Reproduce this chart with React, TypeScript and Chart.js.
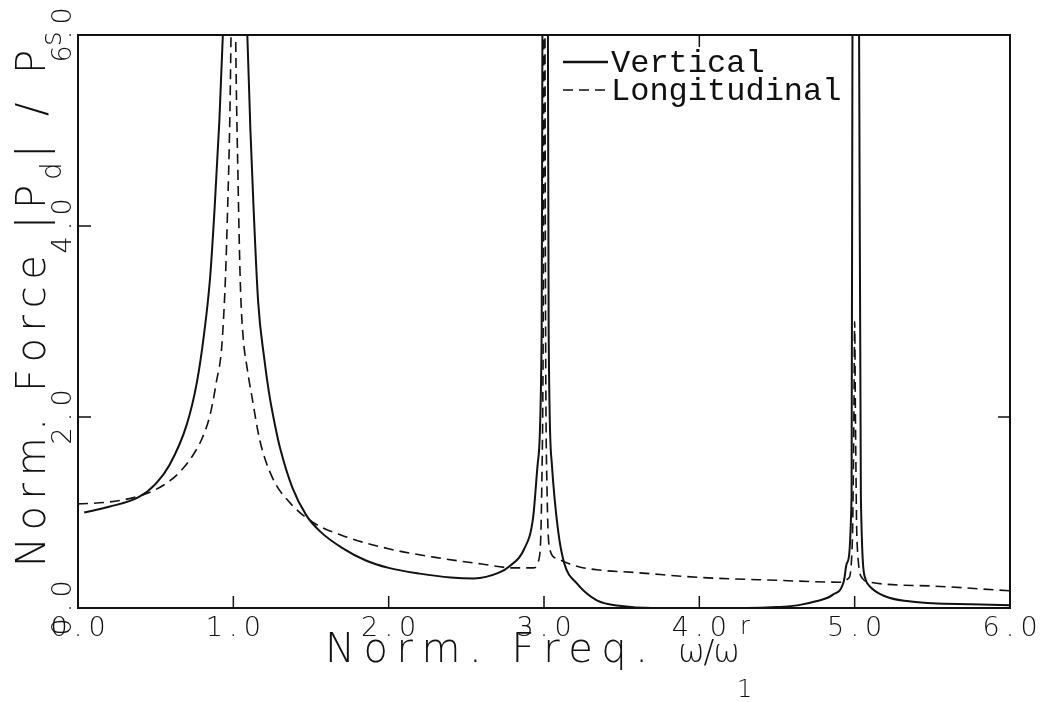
import React, { useEffect, useRef } from 'react';
import { Chart, registerables } from 'chart.js';

Chart.register(...registerables);

// ---------- data ----------
const FREQ_VERTICAL = [
  0.04, 0.2, 0.39, 0.5, 0.59, 0.7, 0.765, 0.81, 0.85, 0.88, 0.91, 0.935, 0.96, 1.0, 1.05, 1.09, 1.11, 1.13,
  1.16, 1.2, 1.23, 1.27, 1.3, 1.38, 1.47, 1.56, 1.7, 1.85, 2.0, 2.2, 2.4, 2.55, 2.71, 2.78, 2.87, 2.93, 2.96, 2.985,
  2.99, 3.005, 3.025, 3.03, 3.05, 3.09, 3.13, 3.21, 3.34, 3.5, 3.7, 4.0, 4.3, 4.5, 4.64, 4.75, 4.86, 4.93,
  4.95, 4.98, 4.986, 5.005, 5.028, 5.04, 5.07, 5.09, 5.2, 5.35, 5.5, 5.75, 6.0,
];
const VERTICAL = [
  1.0, 1.06, 1.16, 1.3, 1.5, 1.92, 2.36, 2.85, 3.45, 4.2, 5.1, 6.1, 7.5, 9.0, 7.4, 6.0, 5.0, 4.2,
  3.2, 2.6, 2.25, 1.9, 1.68, 1.26, 0.97, 0.8, 0.63, 0.5, 0.42, 0.36, 0.32, 0.31, 0.37, 0.44, 0.61, 0.95, 1.52, 2.9,
  6.2, 9.0, 6.2, 2.9, 1.52, 0.82, 0.47, 0.26, 0.08, 0.02, 0.0, 0.0, 0.0, 0.01, 0.03, 0.07, 0.14, 0.28,
  0.47, 1.16, 6.2, 9.0, 6.2, 1.16, 0.3, 0.24, 0.12, 0.07, 0.05, 0.04, 0.03,
];

const FREQ_LONGITUDINAL = [
  0.0, 0.2, 0.39, 0.5, 0.59, 0.67, 0.74, 0.8, 0.85, 0.89, 0.93, 0.96, 0.985, 1.0, 1.015, 1.03, 1.045, 1.06,
  1.09, 1.12, 1.17, 1.25, 1.36, 1.51, 1.7, 2.0, 2.3, 2.6, 2.8, 2.93, 2.97, 2.985, 2.995, 3.003, 3.01, 3.02,
  3.04, 3.08, 3.15, 3.23, 3.34, 3.6, 4.0, 4.5, 4.9, 4.96, 4.985, 4.995, 5.0, 5.005, 5.015, 5.05, 5.1, 5.5,
  6.0,
];
const LONGITUDINAL = [
  1.09, 1.11, 1.17, 1.24, 1.33, 1.45, 1.6, 1.78, 2.02, 2.36, 2.84, 4.0, 6.0, 9.0, 6.0, 4.5, 3.4, 2.9,
  2.5, 2.21, 1.76, 1.37, 1.11, 0.9, 0.76, 0.62, 0.53, 0.46, 0.42, 0.42, 0.53, 1.2, 3.0, 8.0, 3.0, 1.2,
  0.6, 0.52, 0.47, 0.43, 0.4, 0.37, 0.32, 0.29, 0.27, 0.31, 0.7, 2.0, 3.0, 2.0, 0.7, 0.31, 0.27, 0.23,
  0.18,
];

const X_TICKS = [0, 1, 2, 3, 4, 5, 6];
const X_TICK_LABELS = ['0.0', '1.0', '2.0', '3.0', '4.0', '5.0', '6.0'];
const Y_TICKS = [0, 2, 4, 6];
const Y_TICK_LABELS = ['0.0', '2.0', '4.0', '6.0'];
const SERIES_NAMES = ['Vertical', 'Longitudinal'];

const INK = '#111';

function spread(ctx: CanvasRenderingContext2D, text: string, start: number, end: number, base: number) {
  const chars = [...text];
  const widths = chars.map((c) => ctx.measureText(c).width);
  const total = widths.reduce((s, w) => s + w, 0);
  const gap = chars.length > 1 ? (end - start - total) / (chars.length - 1) : 0;
  let pos = start;
  ctx.textAlign = 'left';
  chars.forEach((c, i) => {
    ctx.fillText(c, pos, base);
    pos += widths[i] + gap;
  });
}

function stepped(ctx: CanvasRenderingContext2D, text: string, center: number, base: number, step: number) {
  const chars = [...text];
  ctx.textAlign = 'center';
  chars.forEach((c, i) => {
    ctx.fillText(c, center + (i - (chars.length - 1) / 2) * step, base);
  });
}

const decorPlugin = {
  id: 'decor',
  afterDraw(chart: any) {
    const { ctx, chartArea: a } = chart;
    const xs = chart.scales.x;
    const ys = chart.scales.y;
    ctx.save();
    ctx.strokeStyle = INK;
    ctx.fillStyle = INK;
    ctx.setLineDash([]);

    // frame
    ctx.lineWidth = 2;
    ctx.strokeRect(a.left, a.top, a.right - a.left, a.bottom - a.top);

    // inner tick marks
    ctx.lineWidth = 1.5;
    ctx.beginPath();
    Y_TICKS.slice(1, -1).forEach((v) => {
      const py = ys.getPixelForValue(v);
      ctx.moveTo(a.left, py);
      ctx.lineTo(a.left + 13, py);
    });
    X_TICKS.slice(1, -1).forEach((v) => {
      const px = xs.getPixelForValue(v);
      ctx.moveTo(px, a.bottom);
      ctx.lineTo(px, a.bottom - 12);
    });
    const topTick = xs.getPixelForValue(X_TICKS[4]);
    ctx.moveTo(topTick, a.top);
    ctx.lineTo(topTick, a.top + 12);
    const rightTick = ys.getPixelForValue(Y_TICKS[1]);
    ctx.moveTo(a.right, rightTick);
    ctx.lineTo(a.right - 12, rightTick);
    ctx.stroke();

    // x tick labels
    ctx.font = '200 27px "DejaVu Sans"';
    ctx.textBaseline = 'alphabetic';
    X_TICKS.forEach((v, i) => {
      stepped(ctx, X_TICK_LABELS[i], xs.getPixelForValue(v), a.bottom + 28, 19);
    });

    // y tick labels (rotated)
    Y_TICKS.forEach((v, i) => {
      ctx.save();
      ctx.translate(a.left - 7, ys.getPixelForValue(v));
      ctx.rotate(-Math.PI / 2);
      stepped(ctx, Y_TICK_LABELS[i], 0, 0, 19);
      ctx.restore();
    });

    // x axis title
    ctx.font = '200 40px "DejaVu Sans"';
    spread(ctx, 'Norm. Freq.', 325, 648, 662);
    ctx.font = '200 32px "DejaVu Sans"';
    spread(ctx, 'ω/ω', 678, 740, 662);
    ctx.font = '200 24px "DejaVu Sans"';
    ctx.textAlign = 'left';
    ctx.fillText('r', 740, 634);
    ctx.fillText('1', 737, 697);

    // y axis title (rotated)
    ctx.save();
    ctx.translate(45, 0);
    ctx.rotate(-Math.PI / 2);
    ctx.font = '200 40px "DejaVu Sans"';
    spread(ctx, 'Norm. Force |P', -567, -185, 0);
    ctx.font = '200 28px "DejaVu Sans"';
    ctx.textAlign = 'left';
    ctx.fillText('d', -180, 16);
    ctx.font = '200 40px "DejaVu Sans"';
    spread(ctx, '|/P', -158, -50, 0);
    ctx.font = '200 28px "DejaVu Sans"';
    ctx.textAlign = 'left';
    ctx.fillText('s', -46, 16);
    ctx.restore();

    // legend
    ctx.font = '32px "Liberation Mono"';
    ctx.textAlign = 'left';
    chart.data.datasets.forEach((ds: any, i: number) => {
      const ly = 62 + i * 28;
      ctx.lineWidth = i === 0 ? 2.5 : ds.borderWidth;
      ctx.setLineDash(ds.borderDash || []);
      ctx.beginPath();
      ctx.moveTo(563, ly);
      ctx.lineTo(608, ly);
      ctx.stroke();
      ctx.setLineDash([]);
      ctx.fillText(ds.label, 611, ly + 10);
    });
    ctx.restore();
  },
};

export default function App() {
  const canvasRef = useRef<HTMLCanvasElement | null>(null);

  useEffect(() => {
    const canvas = canvasRef.current;
    if (!canvas) return;
    const chart = new Chart(canvas, {
      type: 'line',
      data: {
        datasets: [
          {
            label: SERIES_NAMES[0],
            data: FREQ_VERTICAL.map((f, i) => ({ x: f, y: VERTICAL[i] })),
            borderColor: INK,
            borderWidth: 2,
            pointRadius: 0,
            cubicInterpolationMode: 'monotone',
            fill: false,
          },
          {
            label: SERIES_NAMES[1],
            data: FREQ_LONGITUDINAL.map((f, i) => ({ x: f, y: LONGITUDINAL[i] })),
            borderColor: INK,
            borderWidth: 1.6,
            borderDash: [10, 6],
            pointRadius: 0,
            cubicInterpolationMode: 'monotone',
            fill: false,
          },
        ],
      },
      options: {
        animation: false,
        responsive: false,
        devicePixelRatio: 1,
        layout: { padding: { left: 78, right: 32, top: 35, bottom: 94 } },
        plugins: { legend: { display: false }, tooltip: { enabled: false }, title: { display: false } },
        events: [],
        scales: {
          x: { type: 'linear', min: 0, max: 6, display: false },
          y: { type: 'linear', min: 0, max: 6, display: false },
        },
      },
      plugins: [decorPlugin],
    } as any);
    return () => chart.destroy();
  }, []);

  return (
    <div style={{ position: 'absolute', left: 0, top: 0, width: 1042, height: 702, background: '#fff' }}>
      <canvas ref={canvasRef} width={1042} height={702} />
    </div>
  );
}
